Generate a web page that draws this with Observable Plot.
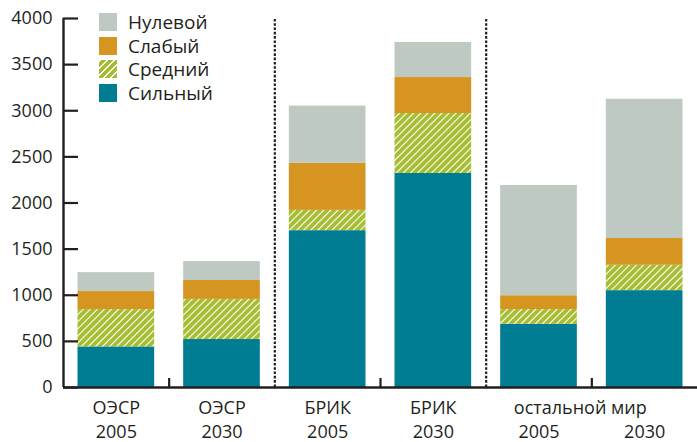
<!DOCTYPE html>
<html><head><meta charset="utf-8">
<script src="https://cdn.jsdelivr.net/npm/d3@7"></script>
<script src="https://cdn.jsdelivr.net/npm/@observablehq/plot@0.6"></script>
<style>
body{margin:0;background:#fff;font-family:"Open Sans",sans-serif;}
#wrap{position:relative;width:697px;height:442px;overflow:hidden}
#legend{position:absolute;left:99px;top:13px;}
.item{display:flex;align-items:center;height:18px;margin-bottom:5.5px;font-size:19px;color:#231f20;white-space:nowrap}
.sw{width:18px;height:18px;margin-right:11px;flex:none}
</style></head><body><div id="wrap"><div id="legend"></div></div>
<script>
const groups = ["ОЭСР","ОЭСР","БРИК","БРИК","остальной мир","остальной мир"];
const years = ["2005","2030","2005","2030","2005","2030"];
const levels = ["Сильный","Средний","Слабый","Нулевой"];
const strong = [440, 520, 1700, 2320, 685, 1050];
const medium = [405, 435, 220, 650, 160, 275];
const weak   = [195, 205, 510, 390, 150, 290];
const zero   = [205, 205, 620, 380, 1195, 1510];
const yTicks = [0, 500, 1000, 1500, 2000, 2500, 3000, 3500, 4000];

const series = [strong, medium, weak, zero];
const ink = "#231f20";
const colors = ["#007d93", "url(#hatch)", "#d69521", "#bdc9c1"];
const green = "#a6bd31";

const data = [];
years.forEach((yr, i) => {
  let base = 0;
  levels.forEach((lv, j) => {
    const v = series[j][i];
    data.push({i, level: lv, y1: base, y2: base + v});
    base += v;
  });
});
const idx = years.map((_, i) => i);
// boundaries between groups (dotted) and within groups (ticks)
const groupBreaks = idx.slice(1).filter(i => groups[i] !== groups[i - 1]).map(i => i - 0.5);
const innerBreaks = idx.slice(1).filter(i => groups[i] === groups[i - 1]).map(i => i - 0.5);
const firstInGroup = idx.filter(i => groups.indexOf(groups[i]) === i);
const simpleGroups = idx.filter(i => groups[i] !== "остальной мир");
const lastGroupEnd = [idx.length - 1];

const chart = Plot.plot({
  width: 697, height: 442,
  marginTop: 18, marginBottom: 55, marginLeft: 63, marginRight: 0,
  style: {fontFamily: "Open Sans, sans-serif", fontSize: "18px", color: ink, background: "white"},
  x: {type: "linear", domain: [-0.5, idx.length - 0.5], axis: null},
  y: {domain: [0, 4000], axis: null},
  color: {domain: levels, range: colors},
  marks: [
    Plot.rectY(data, {x1: d => d.i - 0.5, x2: d => d.i + 0.5, y1: "y1", y2: "y2", fill: "level", insetLeft: 14.5, insetRight: 14.5}),
    Plot.ruleX(groupBreaks, {y1: 0, y2: 4000, stroke: ink, strokeWidth: 2.2, strokeDasharray: "2.6,1.7"}),
    Plot.axisY({ticks: yTicks, tickSize: -15, tickPadding: 26, tickFormat: d => String(d), stroke: ink, strokeWidth: 2.2, fill: ink, fontSize: 18}),
    Plot.axisX({ticks: innerBreaks, tickSize: -9, tickFormat: () => "", stroke: ink, strokeWidth: 2.2}),
    Plot.ruleX([-0.5], {y1: 0, y2: 4000, stroke: ink, strokeWidth: 2.4}),
    Plot.ruleY([0], {stroke: ink, strokeWidth: 2.4}),
    Plot.text(simpleGroups, {x: i => i, text: i => groups[i], frameAnchor: "bottom", lineAnchor: "top", dy: 14, fill: ink, fontSize: 18}),
    Plot.text(lastGroupEnd, {x: i => i, text: i => groups[i], frameAnchor: "bottom", lineAnchor: "top", textAnchor: "end", dx: 2, dy: 14, fill: ink, fontSize: 18}),
    Plot.text(idx, {x: i => i, text: i => years[i], frameAnchor: "bottom", lineAnchor: "top", dy: 38, fill: ink, fontSize: 18})
  ]
});

const svg = d3.select(chart);
const defs = svg.insert("defs", ":first-child");
const p = defs.append("pattern").attr("id", "hatch").attr("patternUnits", "userSpaceOnUse")
  .attr("width", 5).attr("height", 5).attr("patternTransform", "rotate(45)");
p.append("rect").attr("width", 5).attr("height", 5).attr("fill", green);
p.append("line").attr("x1", 2.5).attr("y1", -1).attr("x2", 2.5).attr("y2", 6).attr("stroke", "#fff").attr("stroke-width", 1.1);

const wrap = document.getElementById("wrap");
wrap.insertBefore(chart, wrap.firstChild);

const legend = document.getElementById("legend");
const hatchCss = `repeating-linear-gradient(-45deg, ${green} 0px, ${green} 3.9px, #fff 3.9px, #fff 5px)`;
[...levels].reverse().forEach(lv => {
  const j = levels.indexOf(lv);
  const item = document.createElement("div");
  item.className = "item";
  const sw = document.createElement("div");
  sw.className = "sw";
  sw.style.background = colors[j].startsWith("url") ? hatchCss : colors[j];
  item.appendChild(sw);
  const t = document.createElement("span");
  t.textContent = lv;
  item.appendChild(t);
  legend.appendChild(item);
});
</script>
</body></html>
